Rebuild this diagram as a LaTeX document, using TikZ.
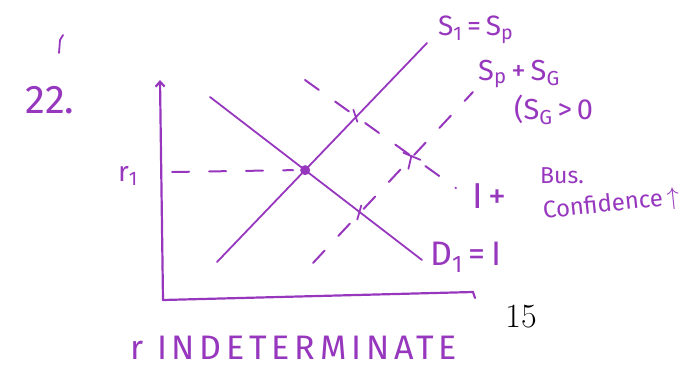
\documentclass[tikz,border=0pt]{standalone}
\usepackage{fontspec}
\newfontfamily\hand{Fira Sans}
\usetikzlibrary{arrows.meta,calc,positioning}
\definecolor{ink}{RGB}{150,55,190}

\begin{document}
\begin{tikzpicture}[x=1pt,y=-1pt, line cap=round,
  pen/.style={ink,line width=2.2pt},
  thin pen/.style={ink,line width=1.8pt},
  dash pen/.style={ink,line width=2pt,dash pattern=on 17pt off 20pt},
  lbl/.style={ink,inner sep=0pt,font=\hand},
  tick/.style={ink,line width=1.8pt}]
 \useasboundingbox (0,0) rectangle (686,370);
 \coordinate (o) at (163,300); \coordinate (ytop) at (160,80); \coordinate (xend) at (473,292);
 \coordinate (s1lo) at (217,262); \coordinate (s1hi) at (427,43);
 \coordinate (d1lo) at (210,97); \coordinate (d1hi) at (422,260);
 \coordinate (ilo) at (305,80); \coordinate (ihi) at (456,188);
 \coordinate (sglo) at (313,263); \coordinate (sghi) at (473,92);
 \coordinate (eq) at (intersection of s1lo--s1hi and d1lo--d1hi);
 \coordinate (t1) at (intersection of s1lo--s1hi and ilo--ihi);
 \coordinate (t2) at (intersection of sglo--sghi and ilo--ihi);
 \coordinate (t3) at (intersection of sglo--sghi and d1lo--d1hi);
 \node[lbl,font=\hand\fontsize{40}{42}\selectfont] (num) at (50,100) {22.};
 \node[lbl,font=\hand\fontsize{28}{30}\selectfont] (r1) at (128,176) {r\textsubscript{1}};
 \node[lbl,font=\hand\fontsize{28}{30}\selectfont,anchor=west] (slbl) at (438,30) {S\textsubscript{1}\,=\,S\textsubscript{p}};
 \node[lbl,font=\hand\fontsize{29}{31}\selectfont,anchor=west] (sglbl) at (478,74) {S\textsubscript{p}\,+\,S\textsubscript{G}};
 \node[lbl,font=\hand\fontsize{29}{31}\selectfont,anchor=west] (sgpos) at (514,110) {(S\textsubscript{G}\,>\,0};
 \node[lbl,font=\hand\fontsize{36}{38}\selectfont,anchor=west] (ilbl) at (472,196) {I\,+};
 \node[lbl,font=\hand\fontsize{23}{25}\selectfont,anchor=west] (bus) at (540,176) {Bus.};
 \node[lbl,font=\hand\fontsize{24}{26}\selectfont,anchor=west,rotate=6] (conf) at (543,212) {Confidence\,$\uparrow$};
 \node[lbl,font=\hand\fontsize{34}{36}\selectfont,anchor=west] (dlbl) at (430,257) {D\textsubscript{1}\,=\,I};
 \node[inner sep=0pt,font=\fontsize{34}{36}\selectfont] (page) at (521,317) {15};
 \node[lbl,font={\hand\fontsize{34}{36}\selectfont\addfontfeature{LetterSpace=14}},anchor=west] (ind) at (130,348) {r INDETERMINATE};
 \draw[pen,-{Straight Barb[length=5pt,width=9pt]}] (o) -- (ytop);
 \draw[pen] (o) -- (xend) -- ++(2,6);
 \draw[thin pen] (s1lo) -- (s1hi);
 \draw[thin pen] (d1lo) -- (d1hi);
 \draw[dash pen] (r1.east) ++(34,-4) -- ($(eq)+(-12,0)$);
 \draw[dash pen] (ilo) -- (ihi);
 \draw[dash pen] (sglo) -- (sghi);
 \fill[ink] (eq) circle (5pt);
 \draw[tick] ($(t1)+(-3,-7)$) -- ($(t1)+(1,5)$);
 \draw[tick] ($(t2)+(-9,-4)$) -- ($(t2)+(8,3)$) ($(t2)+(-1,-1)$) -- ($(t2)+(-4,12)$);
 \draw[tick] ($(t3)+(1,-7)$) -- ($(t3)+(-3,7)$);
 \draw[tick] (59,53) -- (60,40) -- (63,35);
\end{tikzpicture}
\end{document}
